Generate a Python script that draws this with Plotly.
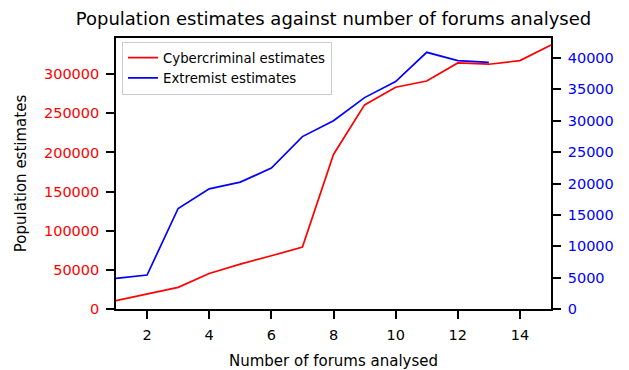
import plotly.graph_objects as go

forums = list(range(1, 16))
cyber_estimates = [10600, 19500, 27600, 45400, 57400, 68000, 79100, 197500,
                   260800, 283400, 291400, 314400, 312800, 317400, 337400]
extremist_forums = list(range(1, 14))
extremist_estimates = [4870, 5410, 16020, 19150, 20220, 22450, 27480, 30000,
                       33690, 36240, 40910, 39580, 39320]

left_ticks = [0, 50000, 100000, 150000, 200000, 250000, 300000]
right_ticks = [0, 5000, 10000, 15000, 20000, 25000, 30000, 35000, 40000]
x_ticks = [2, 4, 6, 8, 10, 12, 14]

FONT = "DejaVu Sans"
TICK_SIZE = 14.5

fig = go.Figure()
fig.add_trace(go.Scatter(x=forums, y=cyber_estimates, mode="lines",
                         name="Cybercriminal estimates",
                         line=dict(color="#ff0000", width=1.7), yaxis="y"))
fig.add_trace(go.Scatter(x=extremist_forums, y=extremist_estimates, mode="lines",
                         name="Extremist estimates",
                         line=dict(color="#0000ff", width=1.7), yaxis="y2"))

axis_common = dict(showgrid=False, zeroline=False, showline=True,
                   linecolor="black", linewidth=1.6, ticks="outside",
                   ticklen=8, tickwidth=1.5, tickcolor="black",
                   ticklabelstandoff=4, automargin=False)

fig.update_layout(
    width=629, height=370,
    margin=dict(l=116, r=78, t=38, b=61, autoexpand=False),
    paper_bgcolor="white", plot_bgcolor="white",
    font=dict(family=FONT, size=TICK_SIZE, color="black"),
    title=dict(text="Population estimates against number of forums analysed",
               xref="paper", x=0.5, xanchor="center",
               yref="container", y=0.95, yanchor="middle",
               font=dict(family=FONT, size=18, color="black")),
    xaxis=dict(range=[1, 15], tickvals=x_ticks, mirror=True,
               title=dict(text="Number of forums analysed",
                          font=dict(size=15), standoff=17),
               tickfont=dict(size=TICK_SIZE, color="black"), **axis_common),
    yaxis=dict(range=[0, 346300], tickvals=left_ticks,
               ticktext=[str(v) for v in left_ticks],
               title=dict(text="Population estimates",
                          font=dict(size=15), standoff=14),
               tickfont=dict(size=TICK_SIZE, color="#ff0000"), **axis_common),
    yaxis2=dict(range=[0, 43190], tickvals=right_ticks,
                ticktext=[str(v) for v in right_ticks],
                overlaying="y", side="right",
                tickfont=dict(size=TICK_SIZE, color="#0000ff"), **axis_common),
    legend=dict(x=0.0138, y=0.987, xanchor="left", yanchor="top",
                bgcolor="rgba(255,255,255,0.8)", bordercolor="#cccccc",
                borderwidth=1, font=dict(family=FONT, size=13.3),
                itemwidth=30, tracegroupgap=0),
    showlegend=True,
)

fig.write_html("out.html")
